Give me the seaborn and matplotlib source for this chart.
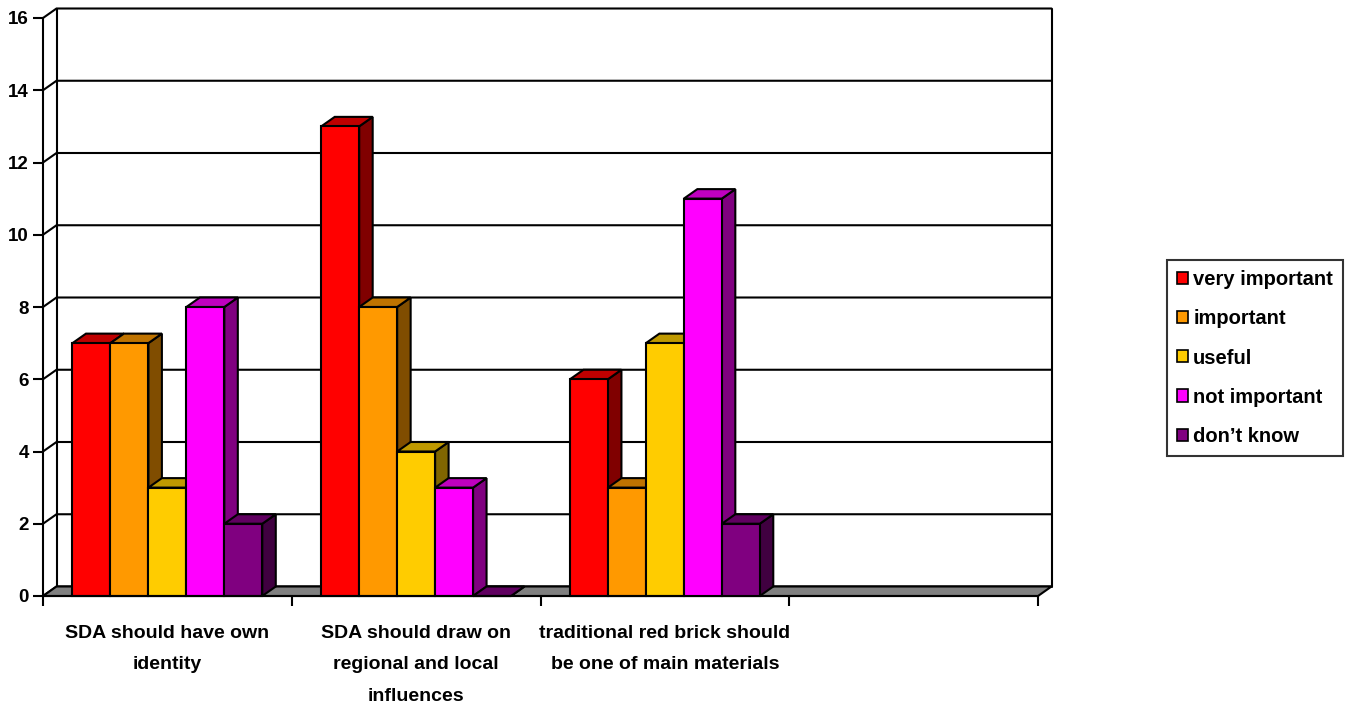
import numpy as np
import pandas as pd
import seaborn as sns
import matplotlib.pyplot as plt
from matplotlib.patches import Polygon, Patch

# --- data ---------------------------------------------------------------
categories = [
    "SDA should have own identity",
    "SDA should draw on regional and local influences",
    "traditional red brick should be one of main materials",
]
category_labels = [
    "SDA should have own\nidentity",
    "SDA should draw on\nregional and local\ninfluences",
    "traditional red brick should\nbe one of main materials",
]
series = ["very important", "important", "useful", "not important", "don\u2019t know"]
very_important = [7, 13, 6]
important = [7, 8, 3]
useful = [3, 4, 7]
not_important = [8, 3, 11]
dont_know = [2, 0, 2]
series_colors = ["#FF0000", "#FF9900", "#FFCC00", "#FF00FF", "#800080"]
y_ticks = [0, 2, 4, 6, 8, 10, 12, 14, 16]

values = [very_important, important, useful, not_important, dont_know]
rows = []
for name, vals in zip(series, values):
    for cat, v in zip(categories, vals):
        rows.append({"category": cat, "rating": name, "count": v})
df = pd.DataFrame(rows)

# --- style --------------------------------------------------------------
sns.set_theme(style="white")
plt.rcParams["font.family"] = ["Liberation Sans", "DejaVu Sans"]
plt.rcParams["font.weight"] = "bold"
for key in ["text.color", "axes.labelcolor", "xtick.color", "ytick.color"]:
    plt.rcParams[key] = "black"

W, H = 1352, 707
fig = plt.figure(figsize=(W / 100, H / 100), dpi=100)
ax_left, ax_right, ax_top, ax_bottom = 43, 1038, 18, 596
ax = fig.add_axes([ax_left / W, (H - ax_bottom) / H,
                   (ax_right - ax_left) / W, (ax_bottom - ax_top) / H])

sns.barplot(data=df, x="category", y="count", hue="rating",
            order=categories, hue_order=series, palette=series_colors,
            width=0.763, saturation=1, errorbar=None,
            edgecolor="black", linewidth=1.5, legend=False, ax=ax)

xmin, xmax, ymin, ymax = -0.5, 3.5, 0, 16
ax.set_xlim(xmin, xmax)
ax.set_ylim(ymin, ymax)

# depth of the 3-D box, converted from pixels to data units
depth_px_x, depth_px_y = 13.5, 9.5
dx = depth_px_x / (ax_right - ax_left) * (xmax - xmin)
dy = depth_px_y / (ax_bottom - ax_top) * (ymax - ymin)

lw = 1.5
# floor slab
floor = Polygon([(xmin, 0), (xmax, 0), (xmax + dx, dy), (xmin + dx, dy)],
                closed=True, facecolor="#808080", edgecolor="black",
                linewidth=lw, zorder=2, clip_on=False)
ax.add_patch(floor)

# back wall gridlines and the left side-wall diagonals
for v in y_ticks:
    ax.plot([xmin, xmin + dx, xmax + dx], [v, v + dy, v + dy],
            color="black", linewidth=lw, zorder=1, clip_on=False,
            solid_joinstyle="miter")
ax.plot([xmin + dx, xmin + dx], [dy, ymax + dy], color="black",
        linewidth=lw, zorder=1, clip_on=False)
ax.plot([xmax + dx, xmax + dx], [dy, ymax + dy], color="black",
        linewidth=lw, zorder=1, clip_on=False)

# bar tops and sides, drawn left to right so neighbours overlap correctly
bars = sorted([p for p in ax.patches if p is not floor], key=lambda p: p.get_x())
for i, p in enumerate(bars):
    x0, w, h = p.get_x(), p.get_width(), p.get_height()
    fc = np.array(p.get_facecolor()[:3])
    side = Polygon([(x0 + w, 0), (x0 + w + dx, dy), (x0 + w + dx, h + dy), (x0 + w, h)],
                   closed=True, facecolor=fc * 0.5, edgecolor="black",
                   linewidth=lw, zorder=10 + 3 * i, clip_on=False)
    top = Polygon([(x0, h), (x0 + w, h), (x0 + w + dx, h + dy), (x0 + dx, h + dy)],
                  closed=True, facecolor=fc * 0.75, edgecolor="black",
                  linewidth=lw, zorder=11 + 3 * i, clip_on=False)
    ax.add_patch(side)
    ax.add_patch(top)
    p.set_zorder(12 + 3 * i)
    p.set_clip_on(False)

# axes, ticks and labels
for s in ["top", "right"]:
    ax.spines[s].set_visible(False)
for s in ["left", "bottom"]:
    ax.spines[s].set_color("black")
    ax.spines[s].set_linewidth(lw)
    ax.spines[s].set_zorder(50)

ax.set_yticks(y_ticks)
ax.set_yticklabels([str(t) for t in y_ticks], fontsize=13.5, fontweight="bold")
ax.tick_params(axis="y", direction="out", length=7, width=lw, color="black",
               pad=3, left=True)

ax.set_xticks([0, 1, 2])
ax.set_xticklabels(category_labels, fontsize=14, fontweight="bold",
                   linespacing=2.1)
ax.set_xticks([-0.5, 0.5, 1.5, 2.5, 3.5], minor=True)
ax.tick_params(axis="x", which="major", length=0, pad=21)
ax.tick_params(axis="x", which="minor", direction="out", length=7,
               width=lw, color="black", bottom=True)
ax.set_xlabel("")
ax.set_ylabel("")
ax.grid(False)

handles = [Patch(facecolor=c, edgecolor="black", linewidth=1.2) for c in series_colors]
leg = fig.legend(handles, series, loc="center left",
                 bbox_to_anchor=(1167 / W, 1 - 358 / H),
                 prop={"size": 14.5, "weight": "bold"},
                 frameon=True, fancybox=False, edgecolor="black",
                 handlelength=0.55, handleheight=0.55, handletextpad=0.25,
                 labelspacing=1.0, borderpad=0.5, borderaxespad=0)
leg.get_frame().set_linewidth(lw)

fig.savefig("out.png", dpi=100, facecolor="white")
